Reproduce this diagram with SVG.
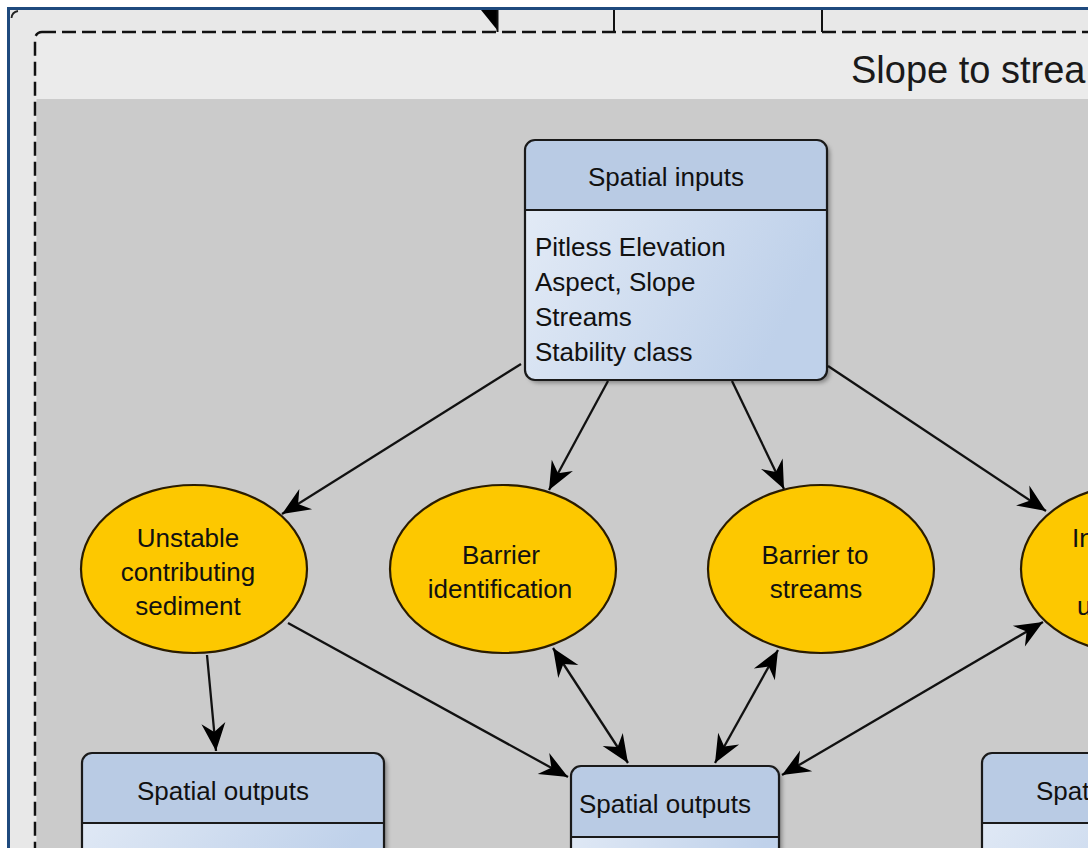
<svg xmlns="http://www.w3.org/2000/svg" width="1088" height="848" viewBox="0 0 1088 848">
  <style>
    .t { font-family: "Liberation Sans", Arial, sans-serif; font-size: 26px; fill: #111; }
    .c { text-anchor: middle; }
    .title { font-family: "Liberation Sans", Arial, sans-serif; font-size: 38px; fill: #1a1a1a; }
    .box { stroke: #1a1a1a; stroke-width: 2.2; }
    .hdr { fill: #b9cbe4; }
    .ell { fill: #fdc800; stroke: #2a1c00; stroke-width: 2.2; }
    .edge { fill: none; stroke: #111; stroke-width: 2.3; }
  </style>
  <defs>
    <marker id="ah" markerUnits="userSpaceOnUse" markerWidth="32" markerHeight="28" viewBox="-30 -14 32 28" refX="0" refY="0" orient="auto-start-reverse">
      <path d="M0,0 L-28,-12 L-19,0 L-28,12 Z" fill="#000"/>
    </marker>
    <linearGradient id="bodyg" x1="0" y1="0" x2="1" y2="0.4">
      <stop offset="0" stop-color="#e6edf7"/>
      <stop offset="1" stop-color="#bfd1ea"/>
    </linearGradient>
    <filter id="sh" x="-10%" y="-10%" width="130%" height="130%">
      <feDropShadow dx="3" dy="3" stdDeviation="2" flood-color="#000" flood-opacity="0.35"/>
    </filter>
  </defs>

  <g id="frame">
    <rect x="0" y="0" width="1088" height="848" fill="#ffffff"/>
    <rect x="8.5" y="8.5" width="1100" height="860" fill="#e8e8e8" stroke="#1f4a7e" stroke-width="3"/>
    <path d="M11.5,18 Q12,12 18,11" fill="none" stroke="#222" stroke-width="1.8"/>
  </g>

  <g id="container">
    <rect x="35" y="32" width="1080" height="840" rx="7" fill="#ebebeb"/>
    <rect x="36.5" y="99" width="1070" height="770" fill="#cbcbcb"/>
    <rect x="35" y="32" width="1080" height="840" rx="7" fill="none" stroke="#111" stroke-width="2.5" stroke-dasharray="14 6"/>
    <text class="title" x="851" y="83">Slope to strea</text>
  </g>

  <g id="incoming">
    <polygon points="481,10 498,10 498,31" fill="#000"/>
    <line x1="497.5" y1="10" x2="497.5" y2="32" stroke="#111" stroke-width="2"/>
    <line x1="614" y1="10" x2="614" y2="32" stroke="#111" stroke-width="2"/>
    <line x1="822" y1="10" x2="822" y2="32" stroke="#111" stroke-width="2"/>
  </g>

  <g id="spatial-inputs">
    <g filter="url(#sh)">
      <rect x="525" y="140" width="302" height="240" rx="10" fill="url(#bodyg)"/>
    </g>
    <path d="M525,210 V150 A10,10 0 0 1 535,140 H817 A10,10 0 0 1 827,150 V210 Z" class="hdr"/>
    <rect x="525" y="140" width="302" height="240" rx="10" fill="none" class="box"/>
    <line x1="525" y1="210" x2="827" y2="210" class="box"/>
    <text class="t c" x="666" y="186">Spatial inputs</text>
    <text class="t" x="535" y="256">Pitless Elevation</text>
    <text class="t" x="535" y="291">Aspect, Slope</text>
    <text class="t" x="535" y="326">Streams</text>
    <text class="t" x="535" y="361">Stability class</text>
  </g>

  <g id="unstable-sediment">
    <ellipse cx="194" cy="569" rx="113" ry="84" class="ell"/>
    <text class="t c" x="188" y="547">Unstable</text>
    <text class="t c" x="188" y="581">contributing</text>
    <text class="t c" x="188" y="615">sediment</text>
  </g>

  <g id="barrier-identification">
    <ellipse cx="503" cy="569" rx="113" ry="84" class="ell"/>
    <text class="t c" x="501" y="564">Barrier</text>
    <text class="t c" x="500" y="598">identification</text>
  </g>

  <g id="barrier-to-streams">
    <ellipse cx="821" cy="569" rx="113" ry="84" class="ell"/>
    <text class="t c" x="815" y="564">Barrier to</text>
    <text class="t c" x="816" y="598">streams</text>
  </g>

  <g id="fourth-ellipse">
    <ellipse cx="1134" cy="569" rx="113" ry="84" class="ell"/>
    <text class="t" x="1072" y="547">In</text>
    <text class="t" x="1077" y="615">u</text>
  </g>

  <g id="spatial-outputs-left">
    <g filter="url(#sh)">
      <rect x="82" y="753" width="302" height="140" rx="10" fill="url(#bodyg)"/>
    </g>
    <path d="M82,823 V763 A10,10 0 0 1 92,753 H374 A10,10 0 0 1 384,763 V823 Z" class="hdr"/>
    <rect x="82" y="753" width="302" height="140" rx="10" fill="none" class="box"/>
    <line x1="82" y1="823" x2="384" y2="823" class="box"/>
    <text class="t" x="137" y="800">Spatial outputs</text>
  </g>

  <g id="spatial-outputs-middle">
    <g filter="url(#sh)">
      <rect x="571" y="766" width="208" height="140" rx="10" fill="url(#bodyg)"/>
    </g>
    <path d="M571,837 V776 A10,10 0 0 1 581,766 H769 A10,10 0 0 1 779,776 V837 Z" class="hdr"/>
    <rect x="571" y="766" width="208" height="140" rx="10" fill="none" class="box"/>
    <line x1="571" y1="837" x2="779" y2="837" class="box"/>
    <text class="t" x="579" y="813">Spatial outputs</text>
  </g>

  <g id="spatial-outputs-right">
    <g filter="url(#sh)">
      <rect x="982" y="753" width="302" height="140" rx="10" fill="url(#bodyg)"/>
    </g>
    <path d="M982,823 V763 A10,10 0 0 1 992,753 H1274 A10,10 0 0 1 1284,763 V823 Z" class="hdr"/>
    <rect x="982" y="753" width="302" height="140" rx="10" fill="none" class="box"/>
    <line x1="982" y1="823" x2="1284" y2="823" class="box"/>
    <text class="t" x="1036" y="800">Spat</text>
  </g>

  <g id="connectors">
    <line class="edge" x1="521" y1="364" x2="282" y2="514" marker-end="url(#ah)"/>
    <line class="edge" x1="608" y1="381" x2="549" y2="490" marker-end="url(#ah)"/>
    <line class="edge" x1="732" y1="381" x2="784" y2="489" marker-end="url(#ah)"/>
    <line class="edge" x1="828" y1="366" x2="1046" y2="511" marker-end="url(#ah)"/>
    <line class="edge" x1="207" y1="655" x2="216" y2="751" marker-end="url(#ah)"/>
    <line class="edge" x1="288" y1="623" x2="568" y2="777" marker-end="url(#ah)"/>
    <line class="edge" x1="553" y1="648" x2="628" y2="763" marker-start="url(#ah)" marker-end="url(#ah)"/>
    <line class="edge" x1="778" y1="650" x2="715" y2="763" marker-start="url(#ah)" marker-end="url(#ah)"/>
    <line class="edge" x1="1043" y1="622" x2="782" y2="775" marker-start="url(#ah)" marker-end="url(#ah)"/>
  </g>
</svg>
